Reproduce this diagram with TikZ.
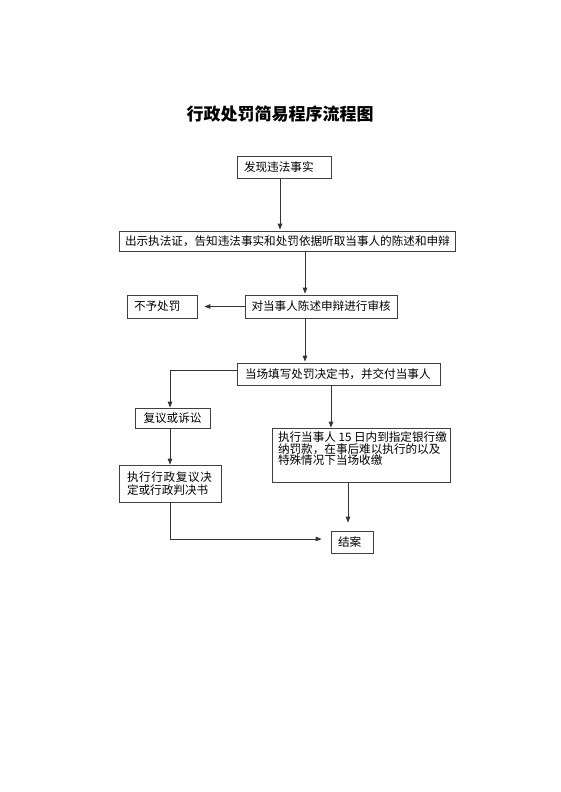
\documentclass[tikz,border=0pt]{standalone}
\usepackage{fontspec}
\newfontfamily\cjk{Noto Sans CJK SC}
\usetikzlibrary{arrows.meta}

\begin{document}
\begin{tikzpicture}[
				x=1pt, y=-1pt,
				every node/.style={font=\cjk\fontsize{11.6}{13}\selectfont},
				box/.style={draw=black!75, line width=0.75pt, inner ysep=0pt, align=left},
				flow/.style={draw=black!80, line width=0.8pt, -{Triangle[length=6pt,width=4.5pt]}},
				line cap=butt,
				line join=miter
				]
				
				\useasboundingbox (0,0) rectangle (560,792);
				
				% Title
				\node[font=\cjk\bfseries\fontsize{17}{20}\selectfont] (title) at (280,114) {行政处罚简易程序流程图};
				
				% Boxes
				\node[box, inner xsep=7pt, text width=80pt, minimum height=22pt] (find) at (284,167.5) {发现违法事实};
				\node[box, inner xsep=6pt, text width=324pt, minimum height=20pt] (notice) at (287,241) {出示执法证，告知违法事实和处罚依据听取当事人的陈述和申辩};
				\node[box, inner xsep=6.5pt, text width=139pt, minimum height=23pt] (review) at (321,306.5) {对当事人陈述申辩进行审核};
				\node[box, inner xsep=7pt, text width=56pt, minimum height=23pt] (nopen) at (162,306.5) {不予处罚};
				\node[box, inner xsep=8pt, text width=187pt, minimum height=22pt] (decide) at (338.5,374) {当场填写处罚决定书，并交付当事人};
				\node[box, inner xsep=8.5pt, text width=58pt, minimum height=20pt] (appeal) at (172.5,418) {复议或诉讼};
				\node[box, inner xsep=6pt, inner ysep=4pt, align=left] (exec) at (361,455)
				{\parbox[c][46pt][t]{166pt}{\raggedright\baselineskip=11.3pt
						\mbox{执行当事人 15 日内到指定银行缴}\\
						\mbox{纳罚款，在事后难以执行的以及}\\
						\mbox{特殊情况下当场收缴}}};
				\node[box, inner xsep=8pt, text width=86pt, minimum height=37pt] (redress) at (170,483.5)
				{\makebox[85pt][s]{执\hfill 行\hfill 行\hfill 政\hfill 复\hfill 议\hfill 决}\\定或行政判决书};
				\node[box, inner xsep=7pt, text width=28pt, minimum height=22pt] (close) at (352,542) {结案};
				
				% Columns of the connectors
				\coordinate (colA) at (280,0);
				\coordinate (colB) at (305,0);
				\coordinate (colC) at (331,0);
				\coordinate (colD) at (348,0);
				\coordinate (colL) at (170,0);
				
				% Connectors
				\draw[flow, shorten >=1pt] (find.south -| colA) -- (notice.north -| colA);
				\draw[flow, shorten >=1pt] (notice.south -| colB) -- (review.north -| colB);
				\draw[flow, shorten >=7pt] (review.west) -- (nopen.east);
				\draw[flow, shorten >=1pt] (review.south -| colB) -- (decide.north -| colB);
				\draw[flow] ([yshift=4pt]decide.west) -| (appeal.north -| colL);
				\draw[flow] (decide.south -| colC) -- (exec.north -| colC);
				\draw[flow] (appeal.south -| colL) -- (redress.north -| colL);
				\draw[flow, shorten >=8pt] (exec.south -| colD) -- (close.north -| colD);
				\draw[flow, shorten >=9pt] (redress.south) |- ([yshift=3pt]close.west);
				
			\end{tikzpicture}
\end{document}
